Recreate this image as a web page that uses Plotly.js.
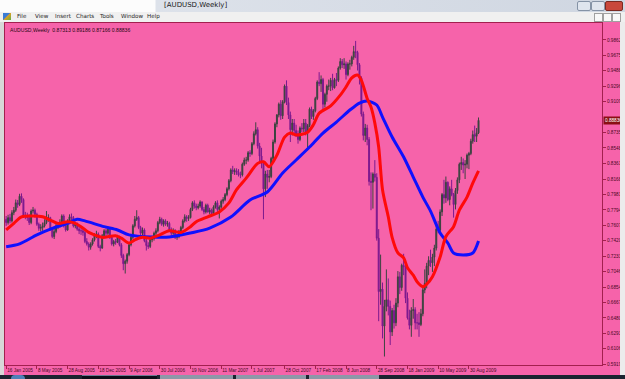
<!DOCTYPE html>
<html><head><meta charset="utf-8">
<script src="https://cdn.plot.ly/plotly-3.0.1.min.js"></script>
<style>
html,body{margin:0;padding:0;width:625px;height:379px;overflow:hidden;background:#f0f0f0;}
#wrap{position:relative;width:625px;height:379px;}
#chart{position:absolute;left:0;top:0;width:625px;height:379px;}
.c{position:absolute;font-family:"DejaVu Sans","Liberation Sans",sans-serif;white-space:nowrap;}
.m{top:13px;font-size:5.6px;color:#1e1e1e;}
</style></head><body>
<div id="wrap">
<div id="chart"></div>
<!-- window chrome -->
<div class="c" style="left:0;top:0;width:625px;height:12px;background:linear-gradient(to right,#fcfcfc 0,#fcfcfc 155px,#dde2ea 156px,#cfd6e1 100%);"></div>
<div class="c" style="left:164px;top:1px;font-size:7px;color:#1a1a1a;">[AUDUSD,Weekly]</div>
<div class="c" style="left:577px;top:1px;width:12px;height:8px;background:#dfe5ee;border:1px solid #8593a6;border-radius:2px;"></div>
<div class="c" style="left:591px;top:1px;width:12px;height:8px;background:#dfe5ee;border:1px solid #8593a6;border-radius:2px;"></div>
<div class="c" style="left:605px;top:1px;width:16px;height:8px;background:#c9483c;border:1px solid #7a2a22;border-radius:2px;"></div>
<div class="c" style="left:0;top:12px;width:625px;height:10px;background:#f0f0f0;"></div>
<div class="c" style="left:3px;top:13px;width:8px;height:7px;background:linear-gradient(135deg,#3a7bd5 0,#3a7bd5 45%,#e0a020 50%,#5ab04a 100%);"></div>
<div class="c m" style="left:17px;">File</div>
<div class="c m" style="left:35px;">View</div>
<div class="c m" style="left:55px;">Insert</div>
<div class="c m" style="left:76px;">Charts</div>
<div class="c m" style="left:100px;">Tools</div>
<div class="c m" style="left:121px;">Window</div>
<div class="c m" style="left:147px;">Help</div>
<div class="c" style="left:594px;top:13px;width:7px;height:7px;border:1px solid #a0a0a0;background:#f8f8f8;"></div>
<div class="c" style="left:603px;top:13px;width:7px;height:7px;border:1px solid #a0a0a0;background:#f8f8f8;"></div>
<div class="c" style="left:612px;top:13px;width:7px;height:7px;border:1px solid #a0a0a0;background:#f8f8f8;"></div>
<div class="c" style="left:0;top:22px;width:4px;height:353px;background:#d8d8d8;"></div>
<div class="c" style="left:620px;top:22px;width:5px;height:353px;background:#ececec;"></div>
<div class="c" style="left:0;top:375px;width:625px;height:4px;background:#1b2430;"></div>
<div class="c" style="left:11px;top:375px;width:14px;height:4px;background:#4f80b8;border-radius:7px 7px 0 0;"></div>
<div class="c" style="left:82px;top:375px;width:75px;height:4px;background:#0b0d18;border-top:1px solid #6a7a92;"></div>
<div class="c" style="left:160px;top:375px;width:73px;height:4px;background:#8d98a8;"></div>
<div class="c" style="left:236px;top:375px;width:70px;height:4px;background:#8d98a8;"></div>
<div class="c" style="left:309px;top:375px;width:70px;height:4px;background:#8d98a8;"></div>
</div>
<script>
// ---- data ----
var opens = [
0.7680,0.7640,0.7700,0.7660,0.7760,0.7790,0.7880,0.7860,0.7960,0.7920,
0.7720,0.7720,0.7700,0.7640,0.7780,0.7790,0.7740,0.7620,0.7570,0.7580,
0.7600,0.7640,0.7700,0.7700,0.7560,0.7470,0.7530,0.7600,0.7600,0.7640,
0.7720,0.7600,0.7550,0.7660,0.7710,0.7700,0.7600,0.7620,0.7560,0.7540,
0.7540,0.7520,0.7410,0.7380,0.7340,0.7380,0.7430,0.7480,0.7500,0.7350,
0.7330,0.7480,0.7540,0.7510,0.7560,0.7460,0.7380,0.7410,0.7400,0.7470,
0.7370,0.7240,0.7140,0.7170,0.7250,0.7370,0.7460,0.7600,0.7680,0.7700,
0.7580,0.7510,0.7550,0.7420,0.7360,0.7350,0.7430,0.7450,0.7510,0.7540,
0.7640,0.7680,0.7620,0.7660,0.7620,0.7630,0.7550,0.7510,0.7540,0.7460,
0.7470,0.7530,0.7580,0.7660,0.7710,0.7690,0.7700,0.7800,0.7880,0.7840,
0.7820,0.7840,0.7890,0.7800,0.7770,0.7850,0.7770,0.7790,0.7750,0.7830,
0.7880,0.7800,0.7830,0.7900,0.7920,0.7980,0.8050,0.8150,0.8280,0.8260,
0.8270,0.8250,0.8220,0.8220,0.8350,0.8400,0.8400,0.8490,0.8480,0.8600,
0.8720,0.8770,0.8570,0.8450,0.8360,0.8050,0.8230,0.8190,0.8200,0.8420,
0.8620,0.8840,0.8950,0.9080,0.8940,0.9110,0.9300,0.9100,0.8950,0.8770,
0.8850,0.8760,0.8720,0.8650,0.8790,0.8780,0.8850,0.8740,0.8820,0.9020,
0.8930,0.9000,0.9150,0.9350,0.9330,0.9380,0.9080,0.9200,0.9300,0.9300,
0.9370,0.9280,0.9380,0.9370,0.9520,0.9600,0.9560,0.9570,0.9440,0.9570,
0.9570,0.9650,0.9720,0.9710,0.9560,0.9400,0.8960,0.8700,0.8790,0.8650,
0.8140,0.8130,0.8230,0.8190,0.7450,0.6800,0.6830,0.6380,0.6620,0.6700,
0.6620,0.6310,0.6570,0.6420,0.6660,0.6980,0.6850,0.7120,0.7100,0.6720,
0.6480,0.6390,0.6570,0.6580,0.6420,0.6420,0.6400,0.6530,0.6820,0.6900,
0.7110,0.7180,0.7150,0.7220,0.7330,0.7560,0.7550,0.7770,0.7980,0.7940,
0.8130,0.7920,0.8050,0.7980,0.7860,0.8030,0.8160,0.8350,0.8370,0.8340,
0.8350,0.8460,0.8480,0.8630,0.8710,0.8690,0.87313];
var highs = [
0.7720,0.7735,0.7745,0.7790,0.7830,0.7920,0.7915,0.7990,0.7995,0.7935,
0.7770,0.7760,0.7740,0.7800,0.7830,0.7810,0.7760,0.7640,0.7620,0.7640,
0.7680,0.7780,0.7740,0.7710,0.7580,0.7560,0.7630,0.7640,0.7680,0.7740,
0.7740,0.7630,0.7680,0.7740,0.7750,0.7720,0.7650,0.7640,0.7590,0.7590,
0.7570,0.7540,0.7450,0.7400,0.7400,0.7450,0.7510,0.7540,0.7520,0.7370,
0.7500,0.7560,0.7570,0.7590,0.7580,0.7480,0.7430,0.7440,0.7490,0.7480,
0.7390,0.7260,0.7190,0.7270,0.7390,0.7480,0.7620,0.7720,0.7790,0.7720,
0.7600,0.7580,0.7570,0.7440,0.7400,0.7450,0.7480,0.7530,0.7570,0.7660,
0.7710,0.7700,0.7680,0.7680,0.7660,0.7650,0.7580,0.7570,0.7560,0.7500,
0.7550,0.7600,0.7680,0.7740,0.7730,0.7730,0.7820,0.7900,0.7910,0.7870,
0.7870,0.7910,0.7900,0.7830,0.7870,0.7870,0.7820,0.7810,0.7850,0.7900,
0.7910,0.7850,0.7920,0.7950,0.8000,0.8070,0.8170,0.8300,0.8330,0.8300,
0.8300,0.8290,0.8260,0.8370,0.8430,0.8440,0.8510,0.8520,0.8620,0.8750,
0.8860,0.8800,0.8610,0.8550,0.8390,0.8270,0.8280,0.8280,0.8440,0.8650,
0.8860,0.8960,0.9100,0.9130,0.9130,0.9320,0.9370,0.9160,0.8990,0.8900,
0.8900,0.8830,0.8760,0.8810,0.8850,0.8900,0.8900,0.8840,0.9040,0.9050,
0.9020,0.9170,0.9370,0.9470,0.9430,0.9400,0.9220,0.9320,0.9380,0.9400,
0.9450,0.9400,0.9460,0.9540,0.9640,0.9630,0.9640,0.9600,0.9590,0.9620,
0.9670,0.9790,0.9850,0.9730,0.9580,0.9420,0.8990,0.8840,0.8830,0.8680,
0.8250,0.8250,0.8400,0.8240,0.7560,0.7250,0.6910,0.6700,0.7070,0.6960,
0.6690,0.6600,0.6640,0.6720,0.7050,0.7040,0.7140,0.7260,0.7110,0.6790,
0.6580,0.6610,0.6710,0.6610,0.6530,0.6550,0.6590,0.6880,0.7070,0.7150,
0.7230,0.7310,0.7260,0.7370,0.7620,0.7660,0.7800,0.8000,0.8160,0.8200,
0.8140,0.8080,0.8160,0.8000,0.8060,0.8190,0.8370,0.8440,0.8420,0.8400,
0.8480,0.8500,0.8660,0.8760,0.8820,0.8790,0.89186];
var lows = [
0.7600,0.7615,0.7630,0.7640,0.7730,0.7770,0.7820,0.7840,0.7880,0.7700,
0.7680,0.7660,0.7610,0.7620,0.7750,0.7700,0.7600,0.7540,0.7530,0.7540,
0.7580,0.7620,0.7650,0.7540,0.7450,0.7440,0.7510,0.7560,0.7580,0.7620,
0.7580,0.7530,0.7540,0.7640,0.7670,0.7580,0.7570,0.7540,0.7500,0.7490,
0.7480,0.7390,0.7360,0.7300,0.7310,0.7360,0.7410,0.7450,0.7330,0.7290,
0.7320,0.7460,0.7470,0.7490,0.7440,0.7360,0.7350,0.7370,0.7390,0.7350,
0.7210,0.7060,0.7020,0.7140,0.7230,0.7350,0.7440,0.7580,0.7660,0.7560,
0.7450,0.7480,0.7400,0.7300,0.7320,0.7330,0.7400,0.7420,0.7480,0.7520,
0.7620,0.7600,0.7590,0.7600,0.7590,0.7530,0.7480,0.7490,0.7440,0.7430,
0.7450,0.7510,0.7560,0.7640,0.7650,0.7660,0.7690,0.7780,0.7810,0.7790,
0.7800,0.7820,0.7780,0.7740,0.7750,0.7760,0.7740,0.7720,0.7730,0.7810,
0.7770,0.7690,0.7810,0.7870,0.7900,0.7960,0.8030,0.8130,0.8230,0.8220,
0.8220,0.8200,0.8180,0.8200,0.8330,0.8350,0.8380,0.8440,0.8460,0.8580,
0.8700,0.8540,0.8380,0.8300,0.7680,0.7950,0.8050,0.8130,0.8180,0.8390,
0.8600,0.8800,0.8920,0.8890,0.8900,0.9090,0.9070,0.8900,0.8620,0.8700,
0.8720,0.8680,0.8600,0.8630,0.8740,0.8740,0.8700,0.8520,0.8800,0.8900,
0.8890,0.8980,0.9130,0.9300,0.9230,0.9020,0.9040,0.9110,0.9250,0.9240,
0.9250,0.9270,0.9300,0.9350,0.9500,0.9520,0.9510,0.9380,0.9420,0.9500,
0.9540,0.9620,0.9640,0.9490,0.9320,0.8930,0.8640,0.8620,0.8580,0.8090,
0.7790,0.7810,0.8140,0.7420,0.6440,0.6640,0.6230,0.6010,0.6560,0.6510,
0.6150,0.6260,0.6350,0.6380,0.6610,0.6770,0.6810,0.7000,0.6660,0.6460,
0.6340,0.6250,0.6470,0.6340,0.6340,0.6250,0.6380,0.6500,0.6780,0.6840,
0.7000,0.7100,0.7040,0.7110,0.7300,0.7510,0.7500,0.7720,0.7870,0.7880,
0.7900,0.7850,0.7960,0.7700,0.7800,0.7990,0.8120,0.8280,0.8240,0.8170,
0.8300,0.8290,0.8460,0.8600,0.8620,0.8620,0.87166];
var closes = [
0.7640,0.7700,0.7660,0.7760,0.7790,0.7880,0.7860,0.7960,0.7920,0.7720,
0.7720,0.7700,0.7640,0.7780,0.7790,0.7740,0.7620,0.7570,0.7580,0.7600,
0.7640,0.7700,0.7700,0.7560,0.7470,0.7530,0.7600,0.7600,0.7640,0.7720,
0.7600,0.7550,0.7660,0.7710,0.7700,0.7600,0.7620,0.7560,0.7540,0.7540,
0.7520,0.7410,0.7380,0.7340,0.7380,0.7430,0.7480,0.7500,0.7350,0.7330,
0.7480,0.7540,0.7510,0.7560,0.7460,0.7380,0.7410,0.7400,0.7470,0.7370,
0.7240,0.7140,0.7170,0.7250,0.7370,0.7460,0.7600,0.7680,0.7700,0.7580,
0.7510,0.7550,0.7420,0.7360,0.7350,0.7430,0.7450,0.7510,0.7540,0.7640,
0.7680,0.7620,0.7660,0.7620,0.7630,0.7550,0.7510,0.7540,0.7460,0.7470,
0.7530,0.7580,0.7660,0.7710,0.7690,0.7700,0.7800,0.7880,0.7840,0.7820,
0.7840,0.7890,0.7800,0.7770,0.7850,0.7770,0.7790,0.7750,0.7830,0.7880,
0.7800,0.7830,0.7900,0.7920,0.7980,0.8050,0.8150,0.8280,0.8260,0.8270,
0.8250,0.8220,0.8220,0.8350,0.8400,0.8400,0.8490,0.8480,0.8600,0.8720,
0.8770,0.8570,0.8450,0.8360,0.8050,0.8230,0.8190,0.8200,0.8420,0.8620,
0.8840,0.8950,0.9080,0.8940,0.9110,0.9300,0.9100,0.8950,0.8770,0.8850,
0.8760,0.8720,0.8650,0.8790,0.8780,0.8850,0.8740,0.8820,0.9020,0.8930,
0.9000,0.9150,0.9350,0.9330,0.9380,0.9080,0.9200,0.9300,0.9300,0.9370,
0.9280,0.9380,0.9370,0.9520,0.9600,0.9560,0.9570,0.9440,0.9570,0.9570,
0.9650,0.9720,0.9710,0.9560,0.9400,0.8960,0.8700,0.8790,0.8650,0.8140,
0.8130,0.8230,0.8190,0.7450,0.6800,0.6830,0.6380,0.6620,0.6700,0.6620,
0.6310,0.6570,0.6420,0.6660,0.6980,0.6850,0.7120,0.7100,0.6720,0.6480,
0.6390,0.6570,0.6580,0.6420,0.6420,0.6400,0.6530,0.6820,0.6900,0.7110,
0.7180,0.7150,0.7220,0.7330,0.7560,0.7550,0.7770,0.7980,0.7940,0.8130,
0.7920,0.8050,0.7980,0.7860,0.8030,0.8160,0.8350,0.8370,0.8340,0.8350,
0.8460,0.8480,0.8630,0.8710,0.8690,0.87313,0.88836];

// moving averages (bar index, value)
var fastMaIdx = [0,4,8,14,19,23,27,32,35,39,43,46,50,57,60,64,67,71,75,79,85,91,96,99,105,111,116,120,125,131,134,137,141,145,148,151,157,160,163,169,174,177,180,183,185,188,190,192,194,196,199,201,204,207,209,212,214,217,219,222,226,229,233,236,240,243,246];
var fastMaVal = [0.755,0.763,0.771,0.772,0.771,0.767,0.763,0.765,0.764,0.759,0.752,0.749,0.746,0.748,0.745,0.739,0.743,0.746,0.745,0.748,0.754,0.752,0.759,0.765,0.771,0.777,0.788,0.804,0.818,0.836,0.838,0.832,0.846,0.868,0.873,0.8705,0.874,0.883,0.897,0.906,0.919,0.929,0.940,0.9435,0.937,0.915,0.9045,0.885,0.856,0.804,0.771,0.746,0.727,0.721,0.709,0.700,0.692,0.686,0.689,0.698,0.722,0.747,0.759,0.779,0.795,0.812,0.827];
var slowMaIdx = [0,7,16,24,32,37,41,51,58,64,76,85,96,106,117,127,136,144,151,158,165,172,179,184,188,193,196,201,207,212,217,221,226,230,233,238,243,246];
var slowMaVal = [0.7345,0.738,0.749,0.757,0.763,0.768,0.766,0.759,0.755,0.749,0.7464,0.7464,0.7513,0.7573,0.7707,0.7914,0.8012,0.8243,0.8401,0.8559,0.8729,0.8863,0.9009,0.9094,0.9119,0.9070,0.8924,0.8681,0.8437,0.8194,0.7950,0.7779,0.7513,0.7391,0.7269,0.7245,0.7269,0.7415];

var tickIdx = [0,16,32,48,64,80,96,112,128,145,161,177,193,209,225,241];
var tickLabels = ['16 Jan 2005','8 May 2005','28 Aug 2005','18 Dec 2005','9 Apr 2006','30 Jul 2006','19 Nov 2006','11 Mar 2007','1 Jul 2007','28 Oct 2007','17 Feb 2008','8 Jun 2008','28 Sep 2008','18 Jan 2009','10 May 2009','30 Aug 2009'];
// 0.89220 is hidden behind the current-price box in the reference
var priceTicks = [0.98625,0.96755,0.94885,0.92960,0.91090,0.87350,0.85480,0.83610,0.81680,0.79815,0.77940,0.76075,0.74205,0.72330,0.70465,0.68540,0.66670,0.64800,0.62930,0.61060,0.59190];
var priceTickText = ['0.98625','0.96755','0.94885','0.92960','0.91090','0.87350','0.85480','0.83610','0.81680','0.79815','0.77940','0.76075','0.74205','0.72330','0.70465','0.68540','0.66670','0.64800','0.62930','0.61060','0.59190'];
var headerText = 'AUDUSD,Weekly  0.87313 0.89186 0.87166 0.88836';
var lastPrice = 0.88836;

// ---- chart ----
var barIdx = closes.map(function(_, i){ return i; });
var pink = '#F663AA';
var frame = '#a3204f';
var txt = '#4a0a26';
var tfont = {family:'Liberation Sans, Arial, sans-serif', size:4.7, color:txt};

var traces = [
  {type:'candlestick', x:barIdx, open:opens, high:highs, low:lows, close:closes,
   increasing:{line:{color:'#3b4440', width:1}, fillcolor:'#3b4440'},
   decreasing:{line:{color:'#7c1a8e', width:1}, fillcolor:'#7c1a8e'},
   whiskerwidth:0, hoverinfo:'skip', showlegend:false},
  {type:'scatter', mode:'lines', x:slowMaIdx, y:slowMaVal,
   line:{color:'#1010ff', width:3, shape:'spline', smoothing:0.8}, hoverinfo:'skip', showlegend:false},
  {type:'scatter', mode:'lines', x:fastMaIdx, y:fastMaVal,
   line:{color:'#ff0a0a', width:3, shape:'spline', smoothing:0.8}, hoverinfo:'skip', showlegend:false}
];

var layout = {
  width:625, height:379,
  margin:{l:5, r:23, t:23, b:14, pad:0},
  paper_bgcolor:pink, plot_bgcolor:pink,
  showlegend:false,
  xaxis:{type:'linear', range:[-0.6,310.3], rangeslider:{visible:false},
    showgrid:false, zeroline:false, showline:true, mirror:true, linecolor:frame, linewidth:1,
    ticks:'outside', ticklen:3, tickcolor:frame, tickwidth:1,
    tickmode:'array', tickvals:tickIdx, ticktext:tickLabels, tickangle:0,
    ticklabelposition:'outside right', ticklabelstandoff:0, tickfont:tfont, fixedrange:true},
  yaxis:{side:'right', range:[0.5907,1.0068],
    showgrid:false, zeroline:false, showline:true, mirror:true, linecolor:frame, linewidth:1,
    ticks:'outside', ticklen:3, tickcolor:frame, tickwidth:1,
    tickmode:'array', tickvals:priceTicks, ticktext:priceTickText,
    tickfont:tfont, fixedrange:true},
  annotations:[
    {xref:'paper', yref:'paper', x:0, y:1, xanchor:'left', yanchor:'top', xshift:3, yshift:-2,
     text:headerText, showarrow:false, font:{family:'Liberation Sans, Arial, sans-serif', size:5.1, color:'#2a0614'}},
    {xref:'paper', yref:'y', x:1, y:lastPrice, xanchor:'left', yanchor:'middle', xshift:1,
     text:lastPrice.toFixed(5), showarrow:false, bgcolor:'#8a0f14', borderpad:1,
     font:{family:'Liberation Sans, Arial, sans-serif', size:4.7, color:'#ffffff'}}
  ]
};

Plotly.newPlot('chart', traces, layout, {staticPlot:true, displayModeBar:false});
</script>
</body></html>
